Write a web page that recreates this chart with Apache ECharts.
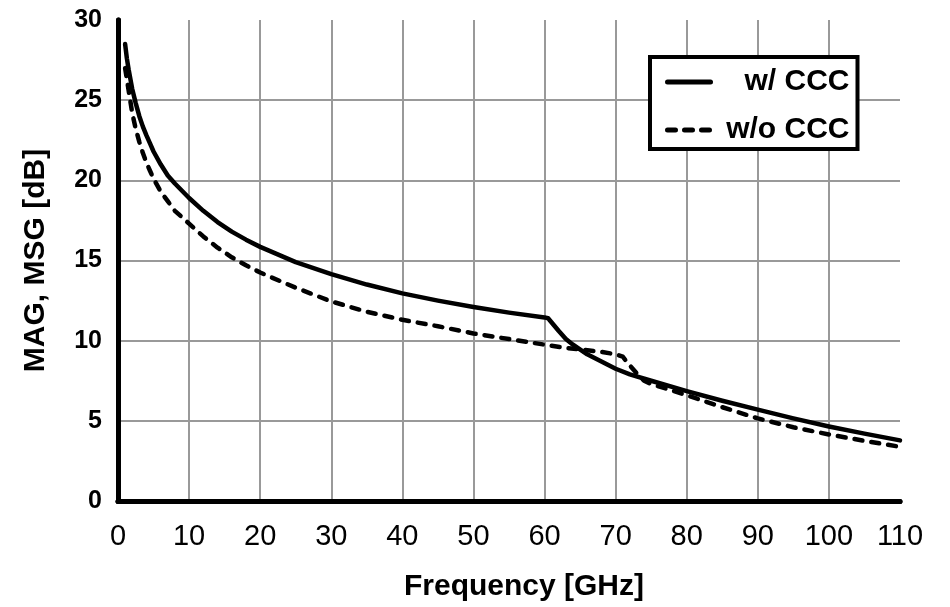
<!DOCTYPE html>
<html>
<head>
<meta charset="utf-8">
<title>MAG / MSG vs Frequency</title>
<script src="https://cdn.jsdelivr.net/npm/echarts@6/dist/echarts.min.js"></script>
<style>
  html, body { margin: 0; padding: 0; background: #fff; }
  #chart { width: 950px; height: 607px; }
</style>
</head>
<body>
<div id="chart"></div>
<script>
// Frequency sweep points (GHz) and gain values (dB) for each device variant
const freqWith = [1, 1.25, 1.5, 2, 2.5, 3, 3.5, 4, 4.5, 5, 6, 7, 8, 9, 10, 12, 14, 16, 18, 20, 25, 30, 35, 40, 45, 50, 55, 60, 60.5, 62, 63, 64, 66, 68, 70, 72, 75, 80, 85, 90, 95, 100, 105, 110];
const gainWith = [28.5, 27.6, 26.9, 25.7, 24.8, 24.0, 23.35, 22.8, 22.3, 21.8, 21.0, 20.3, 19.8, 19.35, 18.9, 18.1, 17.4, 16.8, 16.3, 15.85, 14.9, 14.15, 13.5, 12.95, 12.5, 12.1, 11.75, 11.45, 11.4, 10.6, 10.1, 9.75, 9.15, 8.7, 8.25, 7.9, 7.5, 6.85, 6.25, 5.7, 5.15, 4.65, 4.2, 3.78];

const freqWithout = [1, 1.25, 1.5, 2, 2.5, 3, 3.5, 4, 4.5, 5, 6, 7, 8, 9, 10, 12, 14, 16, 18, 20, 25, 30, 35, 40, 45, 50, 55, 60, 63, 65, 68, 70, 71, 72, 73, 74, 75, 80, 85, 90, 95, 100, 105, 110];
const gainWithout = [27.0, 26.3, 25.6, 24.2, 23.2, 22.4, 21.7, 21.1, 20.6, 20.1, 19.3, 18.7, 18.1, 17.7, 17.3, 16.5, 15.8, 15.2, 14.7, 14.25, 13.3, 12.45, 11.8, 11.3, 10.9, 10.45, 10.1, 9.75, 9.55, 9.45, 9.3, 9.15, 9.0, 8.45, 7.95, 7.5, 7.3, 6.6, 5.85, 5.15, 4.6, 4.15, 3.75, 3.38];

const seriesNames = ['w/ CCC', 'w/o CCC'];
const xTicks = { min: 0, max: 110, interval: 10 };
const yTicks = { min: 0, max: 30, interval: 5 };

const FONT = '"Liberation Sans", Arial, Helvetica, sans-serif';

function pairs(xs, ys) {
  return xs.map((x, i) => [x, ys[i]]);
}

const frameLine = { show: true, lineStyle: { color: '#000', width: 5 } };
const gridLine = {
  show: true,
  showMinLine: false,
  showMaxLine: false,
  lineStyle: { color: '#999', width: 2 }
};

const chart = echarts.init(document.getElementById('chart'), null, { renderer: 'canvas' });

chart.setOption({
  animation: false,
  backgroundColor: '#fff',
  grid: { left: 118, right: 50, top: 20, bottom: 100, containLabel: false },
  legend: {
    orient: 'vertical',
    left: 650,
    top: 57,
    padding: [10, 8, 4, 15],
    itemGap: 18,
    itemWidth: 43,
    itemHeight: 30,
    borderColor: '#000',
    borderWidth: 4,
    backgroundColor: '#fff',
    data: seriesNames,
    // line-only keys: hide the marker that line series add to their legend icon
    itemStyle: { opacity: 0, borderWidth: 0 },
    lineStyle: { width: 5, cap: 'round' },
    formatter: name => '{t|' + name + '}',
    textStyle: {
      rich: {
        t: {
          width: 134,
          align: 'right',
          lineHeight: 30,
          fontFamily: FONT,
          fontWeight: 'bold',
          fontSize: 30,
          color: '#000'
        }
      }
    }
  },
  xAxis: [
    {
      type: 'value',
      position: 'bottom',
      min: xTicks.min,
      max: xTicks.max,
      interval: xTicks.interval,
      name: 'Frequency [GHz]',
      nameLocation: 'middle',
      nameGap: 71,
      nameTextStyle: {
        fontFamily: FONT, fontWeight: 'bold', fontSize: 30, color: '#000',
        padding: [0, 0, 0, 30]
      },
      axisLine: frameLine,
      axisTick: { show: false },
      axisLabel: { fontFamily: FONT, fontSize: 29, color: '#000', margin: 21 },
      splitLine: gridLine
    },
    {
      type: 'value',
      position: 'top',
      min: xTicks.min,
      max: xTicks.max,
      interval: xTicks.interval,
      axisLine: frameLine,
      axisTick: { show: false },
      axisLabel: { show: false },
      splitLine: { show: false }
    }
  ],
  yAxis: [
    {
      type: 'value',
      position: 'left',
      min: yTicks.min,
      max: yTicks.max,
      interval: yTicks.interval,
      name: 'MAG, MSG [dB]',
      nameLocation: 'middle',
      nameGap: 67,
      nameTextStyle: { fontFamily: FONT, fontWeight: 'bold', fontSize: 30, color: '#000' },
      axisLine: frameLine,
      axisTick: { show: false },
      axisLabel: { fontFamily: FONT, fontWeight: 'bold', fontSize: 25, color: '#000', margin: 16 },
      splitLine: gridLine
    },
    {
      type: 'value',
      position: 'right',
      min: yTicks.min,
      max: yTicks.max,
      interval: yTicks.interval,
      axisLine: frameLine,
      axisTick: { show: false },
      axisLabel: { show: false },
      splitLine: { show: false }
    }
  ],
  series: [
    {
      name: seriesNames[0],
      type: 'line',
      xAxisIndex: 0,
      yAxisIndex: 0,
      data: pairs(freqWith, gainWith),
      symbol: 'none',
      smooth: false,
      z: 5,
      lineStyle: { color: '#000', width: 4.5, cap: 'round', join: 'round' },
      itemStyle: { color: '#000' }
    },
    {
      name: seriesNames[1],
      type: 'line',
      xAxisIndex: 0,
      yAxisIndex: 0,
      data: pairs(freqWithout, gainWithout),
      symbol: 'none',
      smooth: false,
      z: 4,
      lineStyle: { color: '#000', width: 4.5, type: [8, 9], cap: 'round', join: 'round' },
      itemStyle: { color: '#000' }
    }
  ]
});
</script>
</body>
</html>
